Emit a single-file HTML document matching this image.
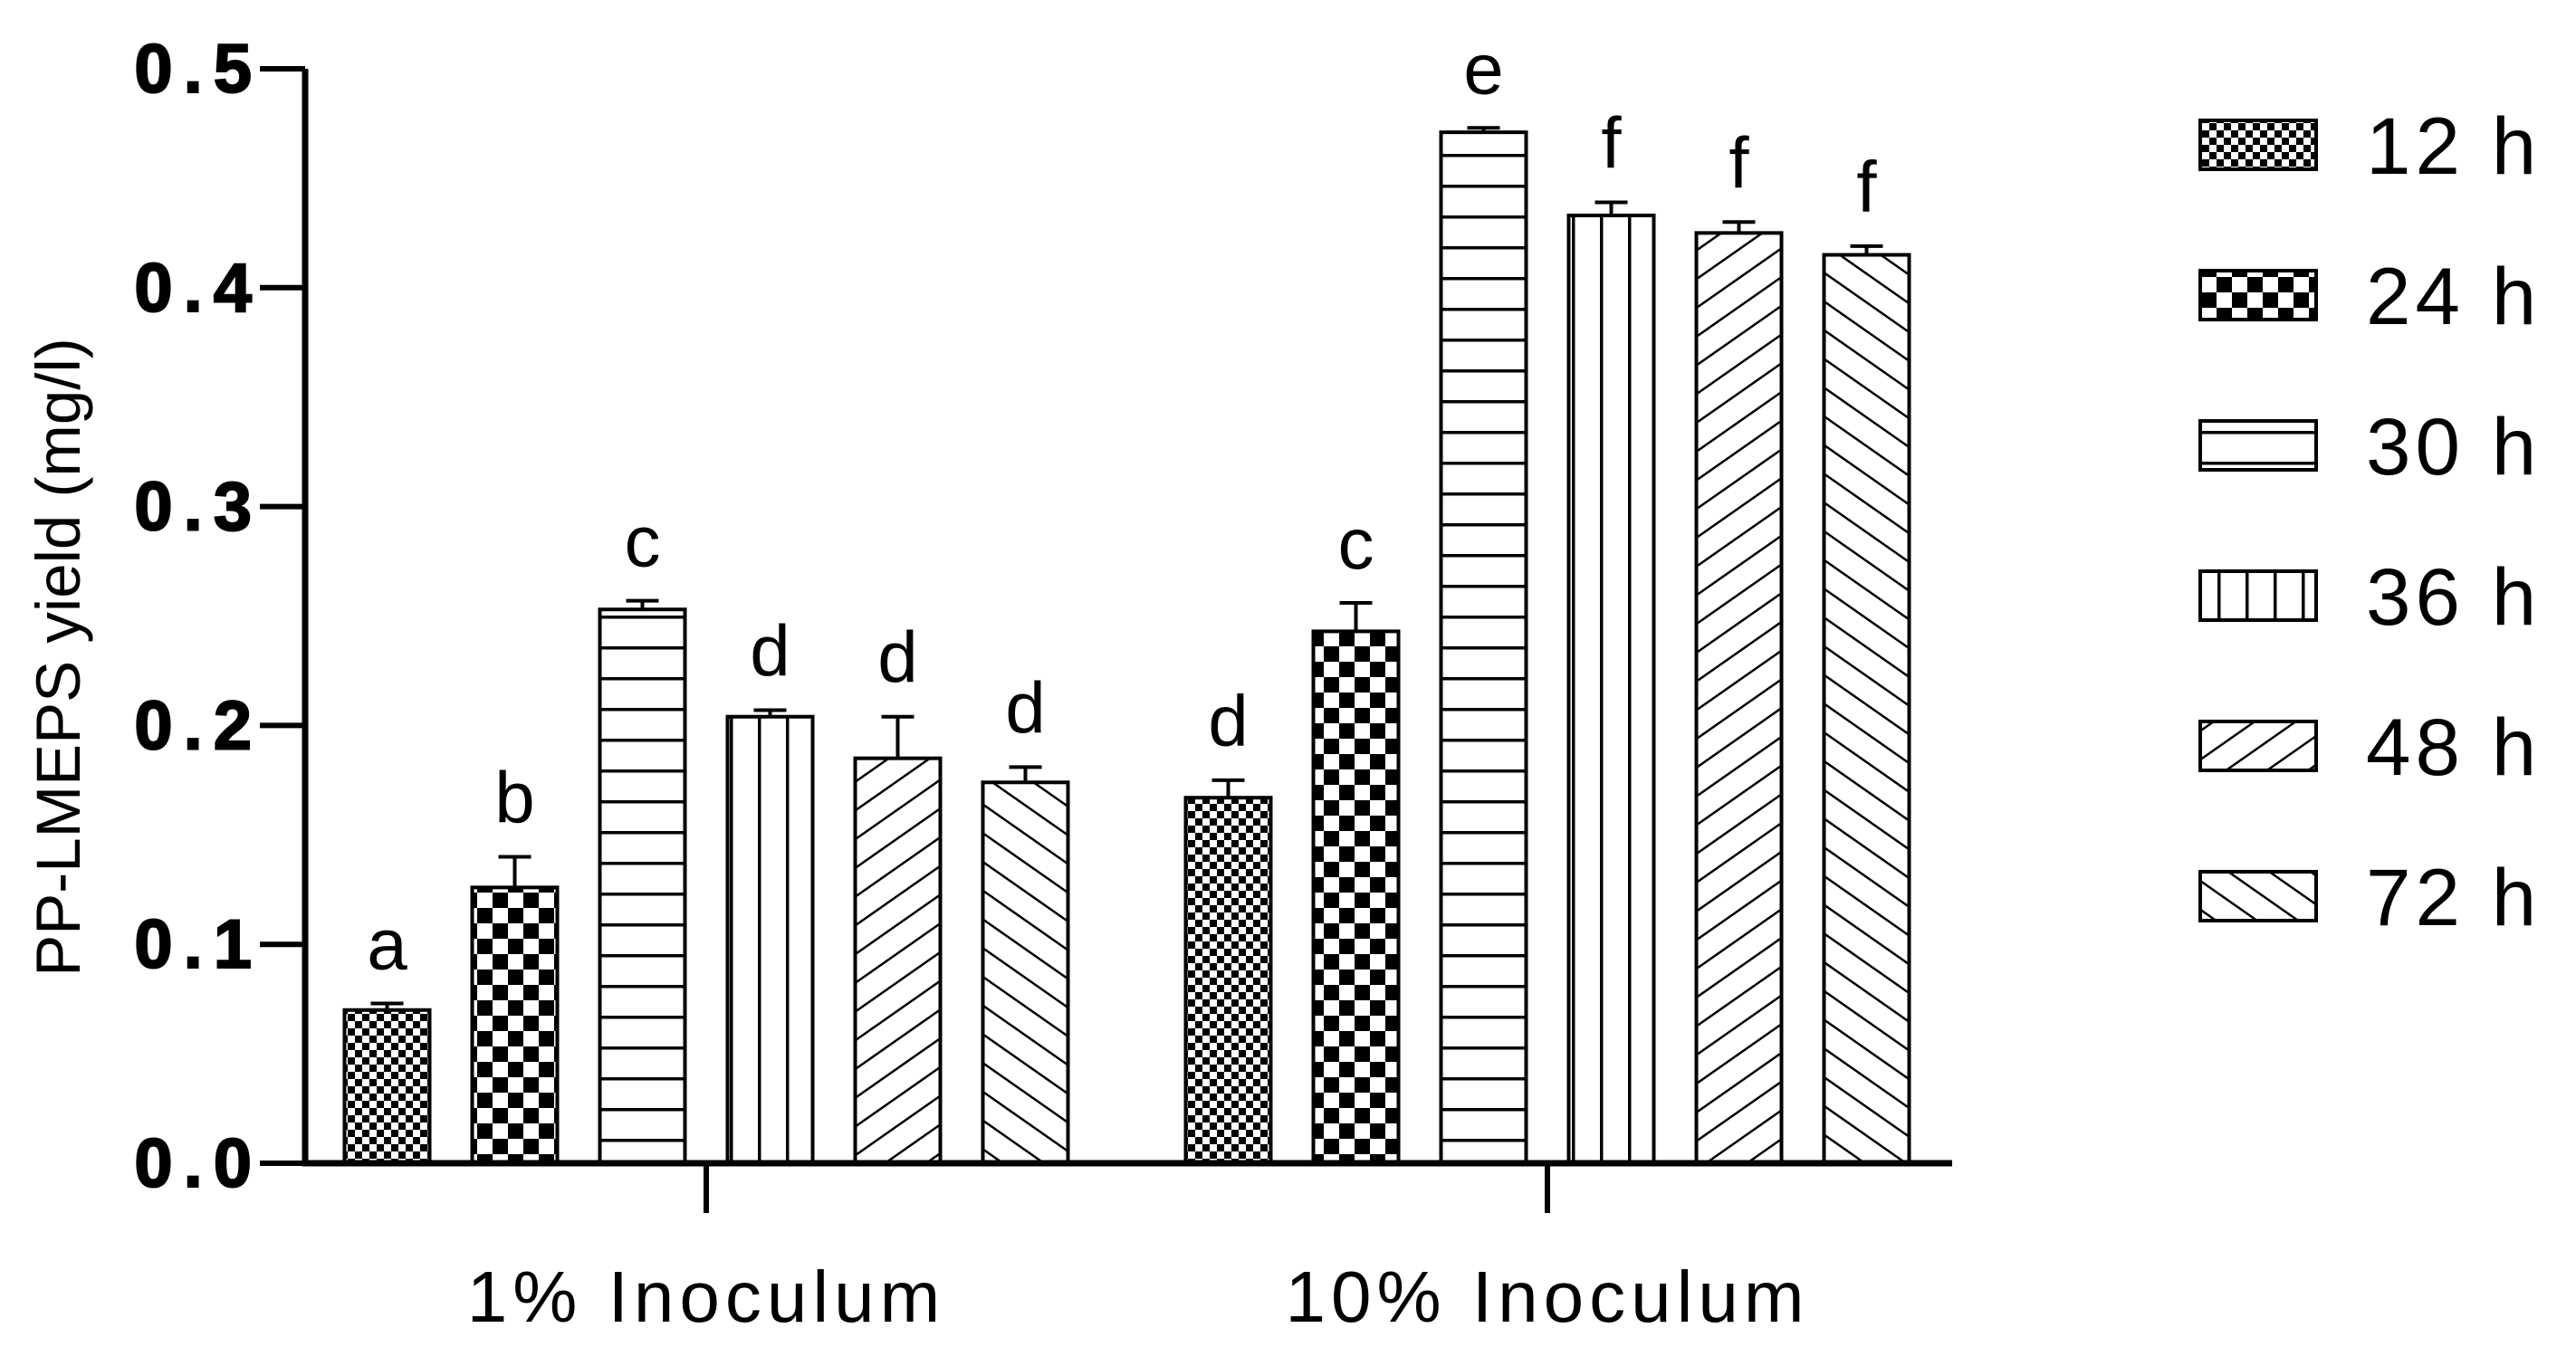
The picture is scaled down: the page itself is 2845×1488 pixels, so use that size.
<!DOCTYPE html>
<html><head><meta charset="utf-8"><style>
html,body{margin:0;padding:0;background:#fff;}
svg{display:block;font-family:"Liberation Sans",Arial,sans-serif;}
</style></head><body>
<svg id="chart" width="2845" height="1488" viewBox="0 0 2845 1488" xmlns="http://www.w3.org/2000/svg">
<defs>
<pattern id="p12" patternUnits="userSpaceOnUse" width="16" height="16"><rect width="16" height="16" fill="#fff"/><rect width="8" height="8" fill="#000"/><rect x="8" y="8" width="8" height="8" fill="#000"/></pattern>
<pattern id="p24" patternUnits="userSpaceOnUse" width="34" height="34"><rect width="34" height="34" fill="#fff"/><rect width="17" height="17" fill="#000"/><rect x="17" y="17" width="17" height="17" fill="#000"/></pattern>
<pattern id="p30" patternUnits="userSpaceOnUse" width="10" height="34"><rect width="10" height="34" fill="#fff"/><rect y="0" width="10" height="3.5" fill="#000"/></pattern>
<pattern id="p36" patternUnits="userSpaceOnUse" width="31" height="10" x="0"><rect width="31" height="10" fill="#fff"/><rect x="0" width="3.5" height="10" fill="#000"/></pattern>
<pattern id="p48" patternUnits="userSpaceOnUse" width="26" height="26" patternTransform="rotate(-35)"><rect width="26" height="26" fill="#fff"/><rect width="26" height="2.5" fill="#000"/></pattern>
<pattern id="p72" patternUnits="userSpaceOnUse" width="26" height="26" patternTransform="rotate(35)"><rect width="26" height="26" fill="#fff"/><rect width="26" height="2.5" fill="#000"/></pattern>
</defs>
<g id="plot"></g>
</svg>
<script>
const groups = ["1% Inoculum", "10% Inoculum"];
const seriesNames = ["12 h", "24 h", "30 h", "36 h", "48 h", "72 h"];
const values1 = [0.070, 0.126, 0.253, 0.204, 0.185, 0.174];
const values10 = [0.167, 0.243, 0.471, 0.433, 0.425, 0.415];
const errors1 = [0.003, 0.014, 0.004, 0.003, 0.019, 0.007];
const errors10 = [0.008, 0.013, 0.002, 0.006, 0.005, 0.004];
const letters1 = ["a", "b", "c", "d", "d", "d"];
const letters10 = ["d", "c", "e", "f", "f", "f"];
const yTicks = [0.0, 0.1, 0.2, 0.3, 0.4, 0.5];
const yTickLabels = ["0.0", "0.1", "0.2", "0.3", "0.4", "0.5"];

const NS = "http://www.w3.org/2000/svg";
const g = document.getElementById("plot");
const X0 = 337, X1 = 2156, Y0 = 1285, Y1 = 76;
const y = v => Y0 - (v / 0.5) * (Y0 - Y1);
const groupCenters = [780, 1709];
const pitch = 141, bw = 94;
const xBar = (gi, si) => groupCenters[gi] + (si - (seriesNames.length - 1) / 2) * pitch;
const pats = ["p12", "p24", "p30", "p36", "p48", "p72"];

function mk(tag, attrs, parent) {
  const el = document.createElementNS(NS, tag);
  for (const k in attrs) el.setAttribute(k, attrs[k]);
  (parent || g).appendChild(el);
  return el;
}

const vals = [values1, values10], errs = [errors1, errors10], lets = [letters1, letters10];
for (let gi = 0; gi < groups.length; gi++) {
  for (let si = 0; si < seriesNames.length; si++) {
    const v = vals[gi][si], e = errs[gi][si], cx = xBar(gi, si);
    const top = y(v + e);
    const eb = mk("path", {d: `M${cx} ${y(v)}V${top}M${cx - 18} ${top}H${cx + 18}`, stroke: "#000", "stroke-width": 4, fill: "none"});
    
    
    const r = mk("rect", {x: cx - bw / 2, y: y(v), width: bw, height: Y0 - y(v), fill: `url(#${pats[si]})`, stroke: "#000", "stroke-width": 4});
    
    
    const t = mk("text", {x: cx, y: top - 38, "text-anchor": "middle", "font-size": 80});
    t.textContent = lets[gi][si];
    
    
  }
  const tk = mk("line", {x1: groupCenters[gi], x2: groupCenters[gi], y1: Y0, y2: Y0 + 55, stroke: "#000", "stroke-width": 6});
  
  
  const gl = mk("text", {x: groupCenters[gi], y: 1460, "text-anchor": "middle", "font-size": 80, "letter-spacing": 6});
  gl.textContent = groups[gi];
  
  
}

const ax = mk("path", {d: `M${X0} ${Y1}V${Y0}H${X1}`, stroke: "#000", "stroke-width": 7, fill: "none"});


for (let i = 0; i < yTicks.length; i++) {
  const ty = y(yTicks[i]);
  const l = mk("line", {x1: X0 - 50, x2: X0, y1: ty, y2: ty, stroke: "#000", "stroke-width": 6});
  
  
  const t = mk("text", {x: 290, y: ty + 26, "text-anchor": "end", "font-size": 76, "font-weight": "bold", "letter-spacing": 12, stroke: "#000", "stroke-width": 2});
  t.textContent = yTickLabels[i];
  
  
}
const yt = mk("text", {x: 0, y: 0, transform: "translate(88,726) rotate(-90)", "text-anchor": "middle", "font-size": 69});
yt.textContent = "PP-LMEPS yield (mg/l)";



for (let si = 0; si < seriesNames.length; si++) {
  const cy = 160 + si * 166;
  const lg = mk("g", {});
  
  
  mk("rect", {x: 2430, y: cy - 27, width: 128, height: 54, fill: `url(#${pats[si]})`, stroke: "#000", "stroke-width": 4}, lg);
  const t = mk("text", {x: 2613, y: cy + 32, "font-size": 89, "letter-spacing": 5}, lg);
  t.textContent = seriesNames[si];
}
</script>
</body></html>
